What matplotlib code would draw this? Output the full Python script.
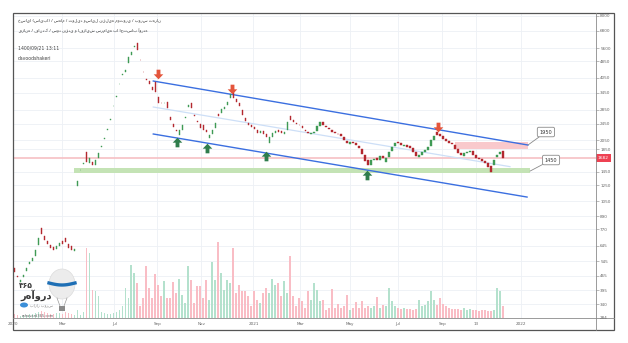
import numpy as np
import matplotlib
matplotlib.use("Agg")
import matplotlib.pyplot as plt
import matplotlib.ticker as mticker
import matplotlib.transforms as mtrans
from matplotlib.path import Path
from matplotlib.patches import Rectangle, Ellipse
from matplotlib.collections import PatchCollection
from matplotlib.lines import Line2D

# ---------------- data (daily candles) ----------------
opens = [505, 462, 435, 455, 490, 525, 545, 575, 650, 780,
         720, 680, 650, 635, 620, 640, 675, 700, 660, 640,
         608, 1235, 1470, 1585, 1790, 1595, 1610, 1565, 1690, 1905,
         2080, 2300, 2565, 2960, 3300, 3770, 4200, 4330, 4770, 5200,
         5700, 5930, 4950, 4340, 3980, 3900, 3650, 3870, 3290, 3090,
         3070, 3100, 2650, 2450, 2300, 2170, 2300, 2600, 2950, 3090,
         2700, 2520, 2450, 2420, 2300, 2100, 2200, 2350, 2720, 2750,
         2870, 3000, 3250, 3470, 3230, 3080, 2850, 2600, 2480, 2420,
         2370, 2300, 2215, 2260, 2190, 1980, 2120, 2220, 2300, 2260,
         2200, 2300, 2670, 2540, 2470, 2430, 2380, 2300, 2240, 2200,
         2210, 2260, 2400, 2500, 2400, 2340, 2280, 2230, 2200, 2180,
         2120, 2030, 1970, 2010, 1980, 1930, 1850, 1740, 1640, 1560,
         1640, 1680, 1640, 1730, 1620, 1700, 1810, 1910, 2000, 1975,
         1930, 1950, 1910, 1870, 1790, 1700, 1740, 1800, 1840, 1910,
         2060, 2235, 2180, 2150, 2070, 2020, 1990, 1950, 1850, 1780,
         1730, 1770, 1800, 1820, 1740, 1690, 1660, 1630, 1590, 1540,
         1560, 1700, 1760, 1817]
closes = [483, 458, 442, 467, 505, 539, 562, 614, 701, 730,
          686, 660, 630, 618, 645, 665, 660, 672, 628, 612,
          622, 1310, 1476, 1594, 1615, 1680, 1560, 1647, 1770, 1920,
          2096, 2313, 2580, 2975, 3320, 3786, 4224, 4410, 5090, 5380,
          5741, 5500, 4924, 4318, 3955, 3790, 3545, 3470, 3080, 3070,
          3090, 2910, 2550, 2365, 2262, 2280, 2416, 2640, 3000, 2900,
          2665, 2497, 2340, 2290, 2250, 2170, 2290, 2470, 2665, 2880,
          2940, 3100, 3400, 3250, 3100, 2980, 2700, 2525, 2416, 2360,
          2310, 2215, 2262, 2190, 2118, 2110, 2213, 2262, 2250, 2210,
          2240, 2497, 2560, 2497, 2440, 2416, 2340, 2262, 2213, 2220,
          2240, 2390, 2497, 2416, 2364, 2313, 2237, 2213, 2190, 2142,
          2050, 1984, 2010, 1984, 1941, 1880, 1760, 1630, 1560, 1650,
          1665, 1640, 1720, 1680, 1690, 1798, 1899, 1984, 1975, 1941,
          1945, 1899, 1879, 1798, 1721, 1740, 1798, 1837, 1899, 2050,
          2142, 2170, 2150, 2073, 2028, 1984, 1962, 1858, 1779, 1739,
          1780, 1798, 1817, 1739, 1682, 1665, 1629, 1594, 1525, 1450,
          1640, 1739, 1800, 1682]
volumes = [4, 3, 2, 3, 3, 4, 4, 5, 6, 7,
           6, 5, 4, 4, 5, 5, 4, 6, 5, 4,
           3, 8, 3, 6, 70, 65, 28, 27, 22, 6,
           5, 4, 4, 5, 6, 8, 12, 30, 20, 53,
           45, 35, 12, 20, 52, 30, 20, 44, 33, 22,
           37, 20, 20, 36, 25, 39, 23, 15, 52, 38,
           15, 32, 32, 20, 38, 18, 56, 38, 76, 45,
           28, 38, 35, 70, 25, 33, 27, 27, 22, 12,
           27, 18, 15, 25, 30, 25, 39, 33, 35, 22,
           37, 25, 62, 22, 12, 20, 17, 10, 27, 18,
           35, 28, 17, 18, 8, 10, 29, 10, 14, 10,
           12, 23, 8, 10, 16, 10, 17, 10, 12, 10,
           12, 21, 10, 13, 12, 30, 17, 12, 10, 9,
           10, 9, 9, 8, 9, 18, 12, 13, 17, 27,
           18, 13, 20, 14, 12, 10, 9, 9, 9, 8,
           10, 8, 9, 8, 8, 7, 8, 8, 7, 7,
           8, 30, 27, 12]
vol_axis_max = 305

price_ticks = [8000, 6800, 5600, 4850, 4050, 3450, 2850, 2450, 2050, 1850,
               1450, 1250, 1050, 890, 770, 645, 545, 465, 395, 340]
time_tick_pos = [-0.5, 16, 33.3, 47.7, 62.3, 79.7, 95.3, 112, 128, 142.7, 154, 169]
time_tick_labels = ['2020', 'Mar', 'Jul', 'Sep', 'Nov', '2021', 'Mar', 'May',
                    'Jul', 'Sep', '13', '2022']
last_price = 1682

upper_channel_x, upper_channel_y = [46.3, 171.3], [3912, 1941]
lower_channel_x, lower_channel_y = [46.3, 171.0], [2190, 1098]
mid_channel_x, mid_channel_y = [46.3, 165.3], [2943, 1532]

resist_x, resist_lo, resist_hi, resist_label = [147, 171.3], 1858, 2017, '1950'
support_x, support_lo, support_hi, support_label = [19.7, 172], 1428, 1517, '1450'

sell_x, sell_y = [48, 72.7, 141.3], [4224, 3600, 2364]
buy_x, buy_y = [54.3, 64.3, 84, 117.7], [2006, 1879, 1721, 1397]

title_line1 = "خسایا (سایپا) / سهام / تولید وسایل نقلیه موتوری / بورس تهران"
title_line2 = "روزانه / فاندک / سود نقدی و افزایش سرمایه با احتساب آورده"
stamp_line = "1400/09/21 13:11"
author_line = "davoodshakeri"

# ---------------- figure ----------------
W, H = 628, 343
def fx(px):
    return px / W
def fy(py):
    return 1 - py / H

plt.rcParams['font.family'] = ['DejaVu Sans']
fig = plt.figure(figsize=(W / 100, H / 100), dpi=100)
fig.patch.set_facecolor('white')

ax = fig.add_axes([fx(13), fy(318), (596 - 13) / W, (318 - 13) / H])
ax.set_facecolor('white')
for s in ax.spines.values():
    s.set_visible(False)

n = len(closes)
xs = np.arange(n)
o = np.array(opens, dtype=float)
c = np.array(closes, dtype=float)
up = c >= o
UPC, DNC = '#3f9a55', '#b3282f'
VUP, VDN = '#b4e1cd', '#f9bdc5'

# volume (bottom overlay, axes fraction)
trans_v = mtrans.blended_transform_factory(ax.transData, ax.transAxes)
rects = [Rectangle((i - 0.3, 0), 0.6, v / vol_axis_max) for i, v in zip(xs, volumes)]
pc = PatchCollection(rects, facecolors=[VUP if u else VDN for u in up],
                     edgecolors='none', transform=trans_v, zorder=1)
ax.add_collection(pc, autolim=False)

# zones
ax.fill_between(support_x, support_lo, support_hi, color='#c4e3b5', lw=0, zorder=2)
ax.fill_between(resist_x, resist_lo, resist_hi, color='#f9c9cc', lw=0, zorder=2)
ax.axhline(last_price, color='#f6c0c4', lw=1.2, zorder=2)

# channel
ax.plot(mid_channel_x, mid_channel_y, color='#cddff7', lw=0.9, zorder=3)
ax.plot(upper_channel_x, upper_channel_y, color='#3b6fe0', lw=1.0, zorder=3)
ax.plot(lower_channel_x, lower_channel_y, color='#3b6fe0', lw=1.0, zorder=3)

# candles
ccol = [UPC if u else DNC for u in up]
ax.bar(xs, np.abs(c - o), bottom=np.minimum(o, c), width=0.5, color=ccol,
       edgecolor=ccol, linewidth=0.3, zorder=4)

# signal arrows
down_verts = [(-0.2, 0.5), (0.2, 0.5), (0.2, 0.02), (0.5, 0.02), (0, -0.5),
              (-0.5, 0.02), (-0.2, 0.02), (-0.2, 0.5)]
down_arrow = Path(down_verts, closed=True)
up_arrow = Path([(x, -y) for x, y in down_verts], closed=True)
ax.scatter(sell_x, sell_y, marker=down_arrow, s=48, color='#e4553b', lw=0, zorder=5)
ax.scatter(buy_x, buy_y, marker=up_arrow, s=48, color='#2f7d4c', lw=0, zorder=5)

# callouts
for (xy, xyt, lab) in [((resist_x[1], 1941), (177.3, 2238), resist_label),
                       ((support_x[1], 1459), (179.0, 1647), support_label)]:
    ax.annotate(lab, xy=xy, xytext=xyt, fontsize=3.6, color='#333',
                ha='center', va='center', zorder=6,
                bbox=dict(boxstyle='round,pad=0.45,rounding_size=0.3', fc='white',
                          ec='#8a8a8a', lw=0.6),
                arrowprops=dict(arrowstyle='-', color='#8a8a8a', lw=0.6,
                                shrinkA=0, shrinkB=0))

# scales
ax.set_yscale('log')
ax.set_ylim(292, 8240)
ax.set_xlim(-0.33, 194)
ax.yaxis.tick_right()
ax.yaxis.set_major_locator(mticker.FixedLocator(price_ticks))
ax.yaxis.set_major_formatter(mticker.FixedFormatter([str(t) for t in price_ticks]))
ax.yaxis.set_minor_locator(mticker.NullLocator())
ax.set_xticks(time_tick_pos)
ax.set_xticklabels(time_tick_labels)
ax.tick_params(axis='y', length=2, width=0.4, colors='#8a8a8a', labelsize=3,
               pad=1, labelcolor='#666')
ax.tick_params(axis='x', length=0, labelsize=3, pad=3, labelcolor='#666')
ax.set_axisbelow(True)
ax.grid(True, color='#edf0f5', lw=0.6, zorder=0)

# current price label
tr_lbl = mtrans.blended_transform_factory(ax.transAxes, ax.transData)
ax.text(1.003, last_price, str(last_price), transform=tr_lbl, ha='left', va='center',
        fontsize=3.2, color='white', zorder=10, clip_on=False,
        bbox=dict(boxstyle='square,pad=0.45', fc='#ee4152', ec='none'))
fig.text(fx(600), fy(318), '284', fontsize=3, color='#666', va='center')

# frame lines
fig.add_artist(Rectangle((fx(13), fy(330)), (614 - 13) / W, (330 - 13) / H,
                         transform=fig.transFigure, fill=False, ec='#555', lw=0.9))
fig.add_artist(Line2D([fx(596), fx(596)], [fy(13), fy(330)], transform=fig.transFigure,
                      color='#8a8a8a', lw=0.6))
fig.add_artist(Line2D([fx(13), fx(614)], [fy(318), fy(318)], transform=fig.transFigure,
                      color='#8a8a8a', lw=0.6))

# header texts
fig.text(fx(18), fy(21), title_line1, fontsize=3.0, color='#333', va='center')
fig.text(fx(18), fy(31), title_line2, fontsize=3.0, color='#333', va='center')
fig.text(fx(18), fy(48), stamp_line, fontsize=3.3, color='#444', va='center')
fig.text(fx(18), fy(58), author_line, fontsize=3.3, color='#444', va='center')

# watermark logo
fig.add_artist(Ellipse((fx(62), fy(284)), 26 / W, 30 / H, transform=fig.transFigure,
                       fc='#ececec', ec='#dcdcdc', lw=0.5))
bx = np.linspace(49, 75, 20)
by = 283 + 2.0 * np.sin((bx - 49) / 26 * np.pi)
fig.add_artist(Line2D(fx(bx), fy(by), transform=fig.transFigure, color='#1e6fb5', lw=2.4))
fig.add_artist(Line2D([fx(57), fx(60)], [fy(298), fy(306)], transform=fig.transFigure,
                      color='#9a9a9a', lw=0.5))
fig.add_artist(Line2D([fx(67), fx(64)], [fy(298), fy(306)], transform=fig.transFigure,
                      color='#9a9a9a', lw=0.5))
fig.add_artist(Rectangle((fx(59), fy(311)), 6 / W, 5 / H, transform=fig.transFigure,
                         fc='#8a8a8a', ec='none'))
fig.text(fx(26), fy(286), '۳۶۵', fontsize=5.5, fontweight='bold', color='#3a3a3a',
         ha='center', va='center')
fig.text(fx(36), fy(295), 'ره‌آورد', fontsize=7, fontweight='bold', color='#3a3a3a',
         ha='center', va='center')
fig.add_artist(Ellipse((fx(24), fy(305)), 8 / W, 5 / H, transform=fig.transFigure,
                       fc='#3b8fd9', ec='none'))
fig.text(fx(30), fy(305), 'بازار بورس', fontsize=2.8, color='#888', va='center')
fig.text(fx(22), fy(316), 'rahavard365.com', fontsize=2.6, color='#666', va='center')

fig.savefig('out.png', dpi=100, facecolor='white')
